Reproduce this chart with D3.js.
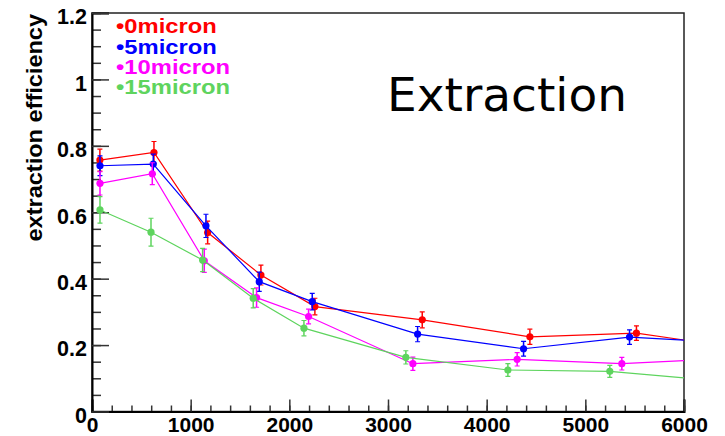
<!DOCTYPE html>
<html>
<head>
<meta charset="utf-8">
<script src="https://cdn.jsdelivr.net/npm/d3@7"></script>
<style>
  body { margin: 0; background: #fff; }
</style>
</head>
<body>
<script>
// values (last point of each series is past 6000, clipped by the frame)
const xRed = [80, 628, 1172, 1712, 2259, 3347, 4438, 5518, 6610]
const yRed = [0.757, 0.780, 0.539, 0.411, 0.316, 0.276, 0.225, 0.236, 0.189]
const eRed = [0.033, 0.033, 0.034, 0.030, 0.025, 0.024, 0.023, 0.022, 0.020]

const xBlue = [81, 621, 1155, 1695, 2232, 3300, 4374, 5448, 6520]
const yBlue = [0.740, 0.745, 0.559, 0.391, 0.331, 0.233, 0.189, 0.224, 0.206]
const eBlue = [0.030, 0.030, 0.035, 0.029, 0.025, 0.023, 0.022, 0.022, 0.020]

const xMag = [81, 611, 1138, 1668, 2195, 3252, 4309, 5370, 6430]
const yMag = [0.687, 0.716, 0.454, 0.343, 0.286, 0.144, 0.157, 0.144, 0.159]
const eMag = [0.035, 0.033, 0.035, 0.029, 0.022, 0.020, 0.020, 0.019, 0.020]

const xGreen = [81, 598, 1121, 1634, 2148, 3181, 4215, 5248, 6280]
const yGreen = [0.607, 0.540, 0.456, 0.341, 0.251, 0.163, 0.125, 0.121, 0.094]
const eGreen = [0.040, 0.042, 0.035, 0.029, 0.023, 0.020, 0.019, 0.018, 0.020]

const seriesNames = ["0micron", "5micron", "10micron", "15micron"]
const seriesColors = ["#ff0000", "#0000ff", "#ff00ff", "#5ed45e"]

const xTickValues = [0, 1000, 2000, 3000, 4000, 5000, 6000]
const xTickLabels = ["0", "1000", "2000", "3000", "4000", "5000", "6000"]
const yTickValues = [0, 0.2, 0.4, 0.6, 0.8, 1.0, 1.2]
const yTickLabels = ["0", "0.2", "0.4", "0.6", "0.8", "1", "1.2"]

const yTitle = "extraction efficiency"
const plotLabel = "Extraction"

const width = 725
const height = 436
const fLeft = 92, fTop = 13, fRight = 684, fBottom = 411.5
const sans = "'Liberation Sans', Arial, sans-serif"

const svg = d3.select("body").append("svg")
    .attr("width", width)
    .attr("height", height)

const x = d3.scaleLinear().domain([0, 6000]).range([fLeft, fRight])
const y = d3.scaleLinear().domain([0, 1.2]).range([fBottom, fTop])

svg.append("clipPath").attr("id", "frame")
  .append("rect")
  .attr("x", fLeft).attr("y", fTop)
  .attr("width", fRight - fLeft).attr("height", fBottom - fTop)

// frame
svg.append("rect")
  .attr("x", fLeft).attr("y", fTop)
  .attr("width", fRight - fLeft).attr("height", fBottom - fTop)
  .attr("fill", "none").attr("stroke", "#222").attr("stroke-width", 1.5)

// minor ticks
svg.append("g")
  .attr("transform", `translate(0,${fBottom})`)
  .call(d3.axisBottom(x).tickValues(d3.range(0, 6001, 200)).tickSize(-6).tickFormat(""))
  .call(g => g.select(".domain").remove())
  .selectAll("line").attr("stroke", "#333").attr("stroke-width", 1.5)

svg.append("g")
  .attr("transform", `translate(${fLeft},0)`)
  .call(d3.axisLeft(y).tickValues(d3.range(0, 1.2001, 0.05)).tickSize(-9).tickFormat(""))
  .call(g => g.select(".domain").remove())
  .selectAll("line").attr("stroke", "#333").attr("stroke-width", 1.5)

// major ticks + labels
const xAxis = svg.append("g")
  .attr("transform", `translate(0,${fBottom})`)
  .call(d3.axisBottom(x).tickValues(xTickValues).tickSize(-12).tickPadding(6)
    .tickFormat((d, i) => xTickLabels[i]))
xAxis.select(".domain").attr("stroke", "#000").attr("stroke-width", 2)
xAxis.selectAll("line").attr("stroke", "#333").attr("stroke-width", 1.5)
xAxis.selectAll("text")
  .style("font-family", sans)
  .attr("font-weight", "bold").attr("font-size", 21).attr("fill", "#000")

const yAxis = svg.append("g")
  .attr("transform", `translate(${fLeft},0)`)
  .call(d3.axisLeft(y).tickValues(yTickValues).tickSize(-17).tickPadding(5)
    .tickFormat((d, i) => yTickLabels[i]))
yAxis.select(".domain").attr("stroke", "#000").attr("stroke-width", 2)
yAxis.selectAll("line").attr("stroke", "#333").attr("stroke-width", 1.5)
yAxis.selectAll("text")
  .attr("dy", "0.5em")
  .style("font-family", sans)
  .attr("font-weight", "bold").attr("font-size", 21.5).attr("fill", "#000")

// y title
svg.append("text")
  .attr("transform", `translate(41.5,14) rotate(-90) scale(1.07,1)`)
  .attr("text-anchor", "end")
  .style("font-family", sans)
  .attr("font-weight", "bold").attr("font-size", 22)
  .text(yTitle)

// series
const series = [
  [xRed, yRed, eRed],
  [xBlue, yBlue, eBlue],
  [xMag, yMag, eMag],
  [xGreen, yGreen, eGreen]
]

const plot = svg.append("g").attr("clip-path", "url(#frame)")

series.forEach((s, k) => {
  const pts = s[0].map((v, i) => ({ x: v, y: s[1][i], e: s[2][i] }))
  const col = seriesColors[k]
  const line = d3.line().x(d => x(d.x)).y(d => y(d.y))

  plot.append("path")
    .datum(pts)
    .attr("d", line)
    .attr("fill", "none").attr("stroke", col).attr("stroke-width", 1.2)

  const g = plot.append("g")
  const eb = g.selectAll("g.err").data(pts).enter().append("g")
  eb.append("line")
    .attr("x1", d => x(d.x)).attr("x2", d => x(d.x))
    .attr("y1", d => y(d.y - d.e)).attr("y2", d => y(d.y + d.e))
    .attr("stroke", col).attr("stroke-width", 1.5)
  eb.append("line")
    .attr("x1", d => x(d.x) - 2.5).attr("x2", d => x(d.x) + 2.5)
    .attr("y1", d => y(d.y - d.e)).attr("y2", d => y(d.y - d.e))
    .attr("stroke", col).attr("stroke-width", 1.2)
  eb.append("line")
    .attr("x1", d => x(d.x) - 2.5).attr("x2", d => x(d.x) + 2.5)
    .attr("y1", d => y(d.y + d.e)).attr("y2", d => y(d.y + d.e))
    .attr("stroke", col).attr("stroke-width", 1.2)
  eb.append("circle")
    .attr("cx", d => x(d.x)).attr("cy", d => y(d.y))
    .attr("r", 3.6).attr("fill", col)
})

// legend
seriesNames.forEach((n, k) => {
  svg.append("text")
    .attr("transform", `translate(116,${33.3 + k * 20.2}) scale(1.16,1)`)
    .style("font-family", sans)
    .attr("font-weight", "bold").attr("font-size", 20.5)
    .attr("fill", seriesColors[k])
    .text("\u2022" + n)
})

svg.append("text")
  .attr("x", 387).attr("y", 110.7)
  .style("font-family", "'DejaVu Sans', sans-serif")
  .attr("font-size", 47).attr("fill", "#000")
  .text(plotLabel)
</script>
</body>
</html>
